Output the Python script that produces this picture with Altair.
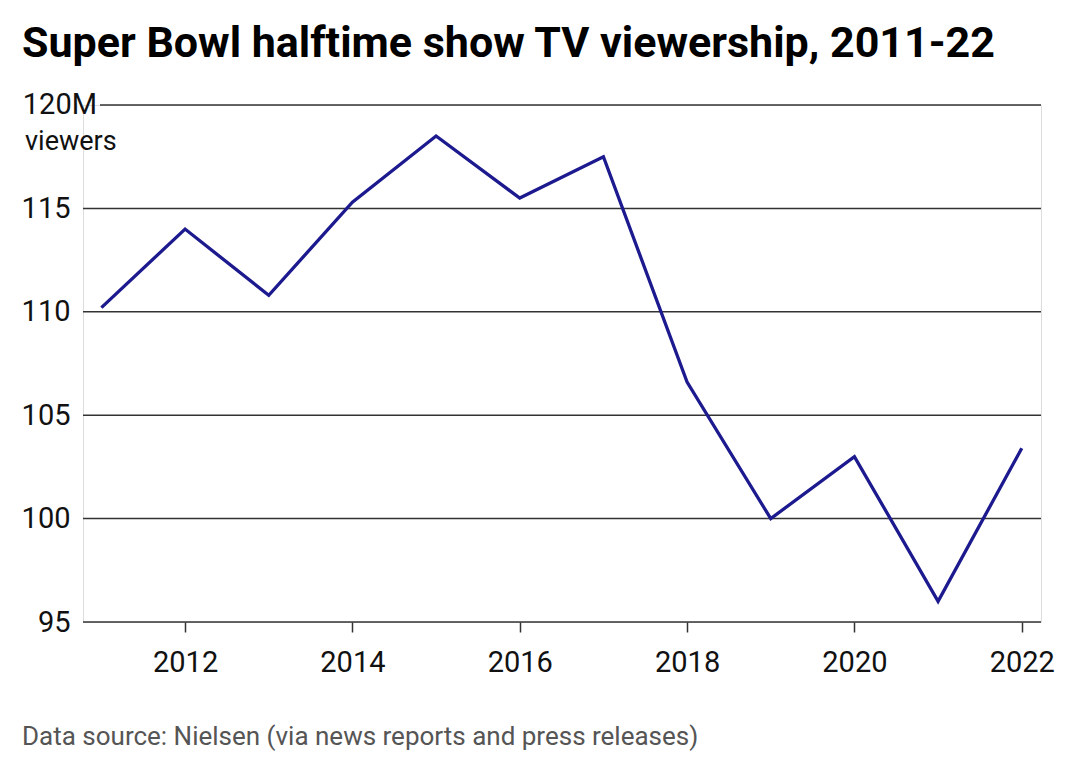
import altair as alt
import pandas as pd

years = [2011, 2012, 2013, 2014, 2015, 2016, 2017, 2018, 2019, 2020, 2021, 2022]
viewers = [110.2, 114.0, 110.8, 115.3, 118.5, 115.5, 117.5, 106.6, 100.0, 103.0, 96.0, 103.4]
grid_values = [95, 100, 105, 110, 115]
top_grid = [120]
x_ticks = [2012, 2014, 2016, 2018, 2020, 2022]

title_text = "Super Bowl halftime show TV viewership, 2011-22"
source_text = "Data source: Nielsen (via news reports and press releases)"

FONT = "Roboto"
W, H = 958, 517

df = pd.DataFrame({"year": years, "viewers": viewers})
grid_df = pd.DataFrame({"v": grid_values})
top_df = pd.DataFrame({"v": top_grid})

xscale = alt.Scale(domain=[2010.78, 2022.23], nice=False, zero=False)
yscale = alt.Scale(domain=[95, 120], nice=False, zero=False)

grid = alt.Chart(grid_df).mark_rule(color="#333333", strokeWidth=1.5).encode(
    y=alt.Y("v:Q", scale=yscale,
            axis=alt.Axis(values=[95, 100, 105, 110, 115], grid=False, ticks=False,
                          domain=False, labelFont=FONT, labelFontSize=29,
                          labelColor="#111111", labelPadding=13, title=None)),
    x=alt.value(0), x2=alt.value(W),
)

top_rule = alt.Chart(top_df).mark_rule(color="#333333", strokeWidth=1.5).encode(
    y=alt.Y("v:Q", scale=yscale),
    x=alt.value(17), x2=alt.value(W),
)

top_label = alt.Chart(top_df).mark_text(
    font=FONT, fontSize=29, align="right", baseline="middle", color="#111111"
).encode(y=alt.Y("v:Q", scale=yscale), x=alt.value(14), text=alt.value("120M"))

unit_label = alt.Chart(top_df).mark_text(
    font=FONT, fontSize=27, align="left", baseline="alphabetic", color="#111111"
).encode(y=alt.value(45), x=alt.value(-58), text=alt.value("viewers"))

line = alt.Chart(df).mark_line(color="#1c1a8e", strokeWidth=3.3).encode(
    x=alt.X("year:Q", scale=xscale,
            axis=alt.Axis(values=x_ticks, format="d", grid=False, domain=False,
                          ticks=True, tickSize=10, tickColor="#333333", tickWidth=1.5,
                          labelFont=FONT, labelFontSize=29, labelColor="#111111",
                          labelPadding=16, title=None)),
    y=alt.Y("viewers:Q", scale=yscale),
)

source = alt.Chart(top_df).mark_text(
    font=FONT, fontSize=26, align="left", baseline="alphabetic", color="#555555"
).encode(y=alt.value(H + 123), x=alt.value(-61), text=alt.value(source_text))

chart = alt.layer(grid, top_rule, line, top_label, unit_label, source).properties(
    width=W, height=H,
    title=alt.Title(title_text, anchor="start", frame="group", dx=-61, offset=25,
                    font=FONT, fontSize=43, fontWeight="bold", color="#000000"),
    autosize=alt.AutoSizeParams(type="none"),
    padding={"left": 75, "top": 97, "right": 31, "bottom": 137},
).configure_view(stroke=None).configure(background="white")

chart.save("out.html", embed_options={"renderer": "svg", "actions": False})
